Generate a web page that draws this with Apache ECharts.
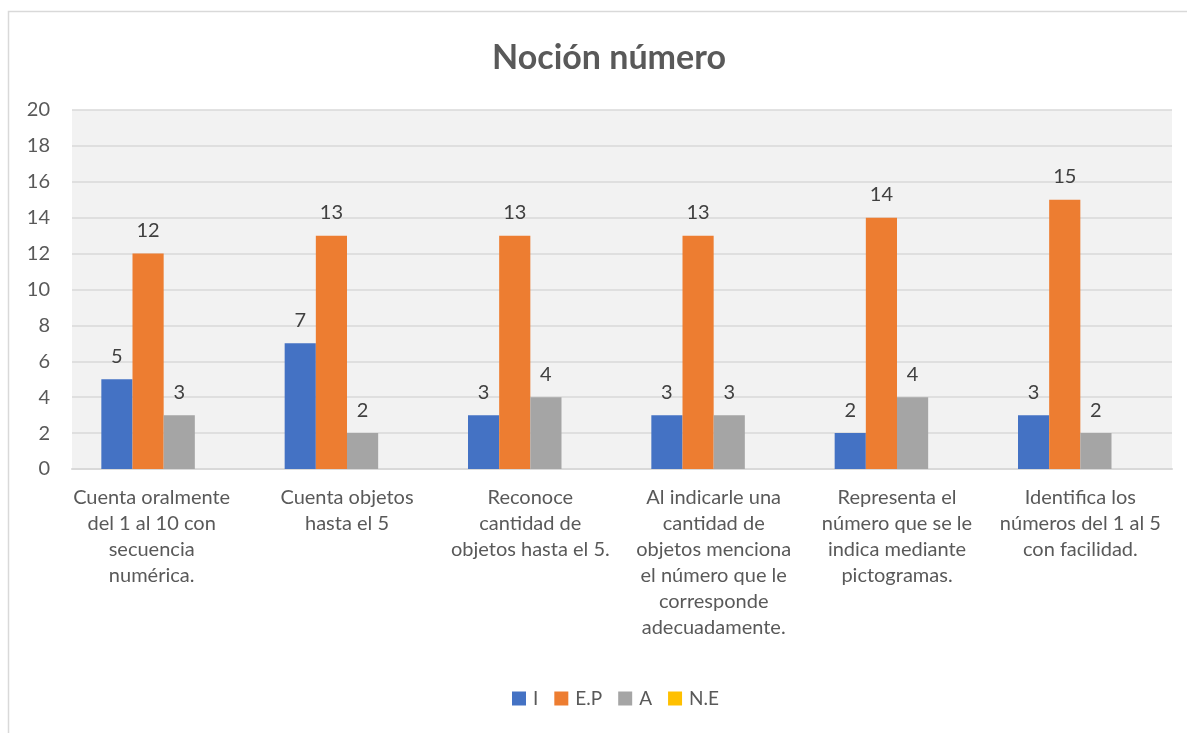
<!DOCTYPE html>
<html><head><meta charset="utf-8">
<script src="https://cdn.jsdelivr.net/npm/echarts@6/dist/echarts.min.js"></script>
<style>html,body{margin:0;padding:0;background:#fff}#c{width:1187px;height:733px}</style>
</head><body><div id="c"></div>
<script>
const categories = [
  'Cuenta oralmente\ndel 1 al 10 con\nsecuencia\nnumérica.',
  'Cuenta objetos\nhasta el 5',
  'Reconoce\ncantidad de\nobjetos hasta el 5.',
  'Al indicarle una\ncantidad de\nobjetos menciona\nel número que le\ncorresponde\nadecuadamente.',
  'Representa el\nnúmero que se le\nindica mediante\npictogramas.',
  'Identifica los\nnúmeros del 1 al 5\ncon facilidad.'
];
const seriesNames = ['I', 'E.P', 'A', 'N.E'];
const valuesI  = [5, 7, 3, 3, 2, 3];
const valuesEP = [12, 13, 13, 13, 14, 15];
const valuesA  = [3, 2, 4, 3, 4, 2];
const valuesNE = [null, null, null, null, null, null];
const colors = ['#4472c4', '#ed7d31', '#a5a5a5', '#ffc000'];
const yTicks = { min: 0, max: 20, interval: 2 };

const FONT = 'Lato';
const chart = echarts.init(document.getElementById('c'));
const mk = (name, data, i) => ({
  name, type: 'bar', data,
  barGap: '0%', barCategoryGap: '32%',
  itemStyle: { color: colors[i] },
  label: { show: true, position: 'top', distance: 13, color: '#404040', fontFamily: FONT, fontSize: 20 }
});
const catData = categories.map((c, i) => i === 0 ? { value: c, textStyle: { padding: [0, 24, 0, 0] } } : c);
chart.setOption({
  animation: false,
  textStyle: { fontFamily: FONT },
  graphic: [{ type: 'rect', shape: { x: 8.5, y: 11.5, width: 1300, height: 900 }, style: { fill: 'none', stroke: '#d9d9d9', lineWidth: 1.5 }, silent: true }],
  title: { text: 'Noción número', left: 604, textAlign: 'center', top: 36, textStyle: { fontFamily: FONT, fontWeight: 'bold', fontSize: 34, color: '#595959' } },
  legend: {
    bottom: 20, left: 507, itemWidth: 14, itemHeight: 14, itemGap: 16, icon: 'rect',
    textStyle: { fontFamily: FONT, fontSize: 19, color: '#595959', padding: [0, 0, 0, 2] },
    data: seriesNames
  },
  grid: { left: 72, right: 15, top: 110, bottom: 264, show: true, backgroundColor: '#f2f2f2', borderWidth: 0 },
  xAxis: {
    type: 'category', data: catData,
    axisLine: { lineStyle: { color: '#d9d9d9', width: 2 } },
    axisTick: { show: false },
    axisLabel: { interval: 0, color: '#595959', fontFamily: FONT, fontSize: 20, lineHeight: 26, margin: 16 }
  },
  yAxis: {
    type: 'value', min: yTicks.min, max: yTicks.max, interval: yTicks.interval,
    axisLine: { show: false }, axisTick: { show: false },
    axisLabel: { color: '#595959', fontFamily: FONT, fontSize: 20, margin: 22 },
    splitLine: { lineStyle: { color: '#d9d9d9', width: 1.5 } }
  },
  series: [mk(seriesNames[0], valuesI, 0), mk(seriesNames[1], valuesEP, 1), mk(seriesNames[2], valuesA, 2), mk(seriesNames[3], valuesNE, 3)]
});
</script></body></html>
